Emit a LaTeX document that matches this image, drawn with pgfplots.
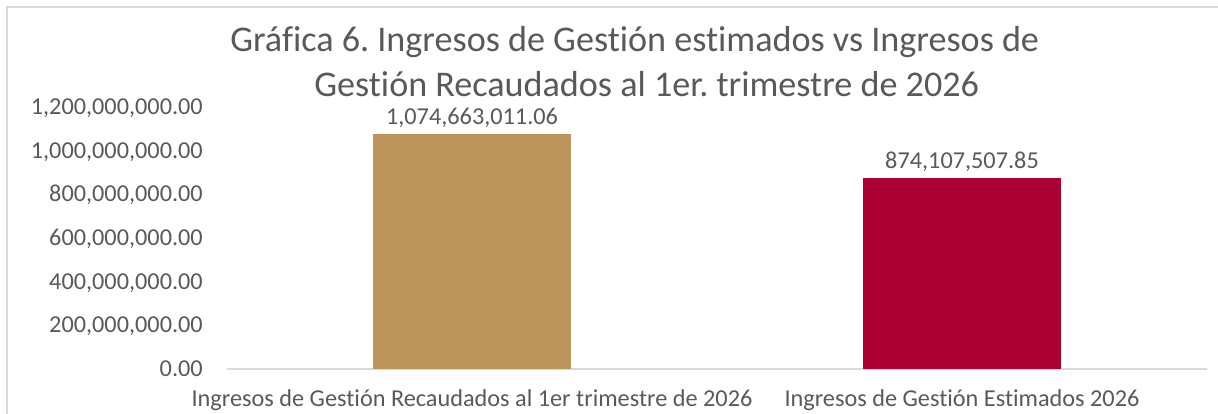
\documentclass[border=0pt]{standalone}
\usepackage{pgfplots}
\pgfplotsset{compat=1.18}
\usepackage{fontspec}
\setmainfont{Carlito}[Ligatures=NoCommon]
\frenchspacing
\definecolor{tan}{HTML}{BC955C}
\definecolor{guinda}{HTML}{AB0033}
\definecolor{txt}{HTML}{595959}
\definecolor{frame}{HTML}{D9D9D9}
\begin{document}
\begin{tikzpicture}
\path[use as bounding box] (0,0) rectangle (913.5pt,310.5pt);
\draw[frame, line width=1.3pt] (5.25pt,0) -- (5.25pt,305.25pt) -- (913.5pt,305.25pt);
\node[anchor=base, inner sep=0pt, text=txt, font=\fontsize{27.1}{33}\selectfont] at (476pt,271.5pt) {Gráfica 6. Ingresos de Gestión estimados vs Ingresos de};
\node[anchor=base, inner sep=0pt, text=txt, font=\fontsize{27.1}{33}\selectfont] at (485pt,237.75pt) {Gestión Recaudados al 1er. trimestre de 2026};
\begin{axis}[
  at={(170.25pt,33.75pt)}, anchor=south west,
  scale only axis, width=735pt, height=196.5pt,
  xmin=-0.5, xmax=1.5, ymin=0, ymax=1200000000,
  axis x line*=bottom, axis y line*=left,
  x axis line style={draw=frame, line width=1pt, -},
  y axis line style={draw=none},
  major tick length=0pt,
  xtick={0,1},
  xticklabels={Ingresos de Gestión Recaudados al 1er trimestre de 2026, Ingresos de Gestión Estimados 2026},
  ytick={0,200000000,400000000,600000000,800000000,1000000000,1200000000},
  yticklabels={0.00,{200,000,000.00},{400,000,000.00},{600,000,000.00},{800,000,000.00},{1,000,000,000.00},{1,200,000,000.00}},
  scaled y ticks=false,
  /pgf/number format/assume math mode=true,
  ticklabel style={text=txt, font=\fontsize{18.2}{20}\selectfont, inner sep=0pt},
  yticklabel style={anchor=base east, xshift=-18pt, yshift=-5.7pt},
  xticklabel style={anchor=base, yshift=-28.5pt},
  ybar, bar width=148.5pt,
  point meta=explicit symbolic,
  nodes near coords,
  nodes near coords style={anchor=base, inner sep=0pt, yshift=7.5pt, text=txt, font=\fontsize{18.2}{20}\selectfont},
  clip=false,
]
\addplot[fill=tan, draw=none, bar shift=0pt] coordinates {(0,1074663011.06) [1,074,663,011.06]};
\addplot[fill=guinda, draw=none, bar shift=0pt] coordinates {(1,874107507.85) [874,107,507.85]};
\end{axis}
\end{tikzpicture}
\end{document}
